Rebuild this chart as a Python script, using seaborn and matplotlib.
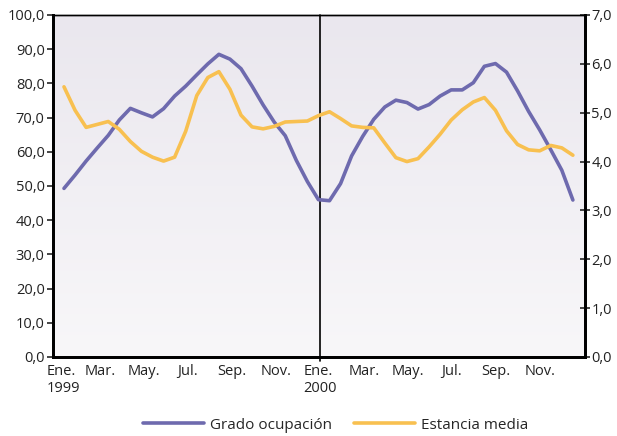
import numpy as np
import pandas as pd
import matplotlib
matplotlib.use("Agg")
import matplotlib.pyplot as plt
import matplotlib.transforms as mtrans
from matplotlib.ticker import FuncFormatter, MultipleLocator
import seaborn as sns

# ---- data ----
grado = [49.3, 53.2, 57.3, 61.1, 64.8, 69.3, 72.7, 71.4, 70.2, 72.6,
         76.3, 79.2, 82.5, 85.7, 88.5, 87.1, 84.3, 79.2, 73.7, 68.7,
         64.7, 57.5, 51.3, 46.0, 45.7, 50.7, 58.8, 64.5, 69.5, 73.1,
         75.1, 74.4, 72.5, 73.8, 76.3, 78.1, 78.1, 80.2, 85.0, 85.8,
         83.3, 77.8, 71.8, 66.4, 60.6, 54.6, 45.9]
estancia = [5.53, 5.05, 4.70, 4.76, 4.82, 4.66, 4.41, 4.21, 4.09, 4.01,
            4.09, 4.62, 5.35, 5.72, 5.84, 5.48, 4.95, 4.71, 4.67, 4.72,
            4.81, 4.82, 4.83, 4.94, 5.02, 4.88, 4.73, 4.70, 4.69, 4.38,
            4.08, 4.00, 4.06, 4.30, 4.56, 4.85, 5.06, 5.22, 5.31, 5.05,
            4.63, 4.35, 4.24, 4.22, 4.33, 4.28, 4.13]
periodo = np.linspace(0.36, 23.5, len(grado))  # months since Jan 1999
tick_pos = [0, 2, 4, 6, 8, 10, 12, 14, 16, 18, 20, 22]
tick_labels = ["Ene.\n1999", "Mar.", "May.", "Jul.", "Sep.", "Nov.",
               "Ene.\n2000", "Mar.", "May.", "Jul.", "Sep.", "Nov."]
series_names = ["Grado ocupación", "Estancia media"]
colors = ["#6e6aae", "#f8c050"]

df = pd.DataFrame({"periodo": periodo, "grado": grado, "estancia": estancia})

sns.set_style("white")
plt.rcParams["font.family"] = ["Open Sans", "DejaVu Sans"]

fig = plt.figure(figsize=(6.17, 4.36), dpi=100)
ax = fig.add_axes([0.0859, 0.1812, 0.8622, 0.7844])
ax2 = ax.twinx()

# gradient background
grad = np.linspace(0, 1, 256).reshape(-1, 1)
top = np.array([0xea, 0xe7, 0xee]) / 255
bot = np.array([0xf8, 0xf7, 0xf9]) / 255
img = top[None, None, :] * (1 - grad[:, :, None]) + bot[None, None, :] * grad[:, :, None]
ax.imshow(img, extent=[0, 1, 0, 1], transform=ax.transAxes, aspect="auto", zorder=0)

sns.lineplot(data=df, x="periodo", y="grado", ax=ax, color=colors[0], lw=2.6,
             label=series_names[0], legend=False, zorder=3,
             solid_joinstyle="round", solid_capstyle="round")
sns.lineplot(data=df, x="periodo", y="estancia", ax=ax2, color=colors[1], lw=2.6,
             label=series_names[1], legend=False, zorder=3,
             solid_joinstyle="round", solid_capstyle="round")

ax.set_xlim(-0.14, 24.05)
ax.set_ylim(0, 100)
ax2.set_ylim(0, 7)
ax.axvline(12, ymin=-0.012, ymax=1, color="black", lw=1.2, zorder=2, clip_on=False)

fmt = FuncFormatter(lambda v, p: f"{v:.1f}".replace(".", ","))
ax.yaxis.set_major_locator(MultipleLocator(10))
ax.yaxis.set_major_formatter(fmt)
ax2.yaxis.set_major_locator(MultipleLocator(1))
ax2.yaxis.set_major_formatter(fmt)

ax.set_xticks(tick_pos)
ax.set_xticklabels(tick_labels, fontsize=10.5, color="#222222", multialignment="left")
ax.tick_params(axis="x", length=0, pad=5)
ax.tick_params(axis="y", direction="out", length=4, width=1.2, labelsize=10.5,
               labelcolor="#222222", pad=2, left=True)
ax2.tick_params(axis="y", direction="inout", length=7, width=1.2, labelsize=10.5,
                labelcolor="#222222", pad=1, right=True)
lbl0 = ax.get_xticklabels()[0]
lbl0.set_transform(lbl0.get_transform() + mtrans.ScaledTranslation(7 / 100, 0, fig.dpi_scale_trans))

for a in (ax, ax2):
    a.set_xlabel("")
    a.set_ylabel("")
    for s in ("left", "bottom", "right"):
        a.spines[s].set_linewidth(2.0)
        a.spines[s].set_color("black")
    a.spines["top"].set_linewidth(1.0)
    a.spines["top"].set_color("black")

h1, l1 = ax.get_legend_handles_labels()
h2, l2 = ax2.get_legend_handles_labels()
fig.legend(h1 + h2, l1 + l2, loc="center", bbox_to_anchor=(0.544, 0.025), ncol=2,
           frameon=False, fontsize=11, handlelength=4.0, handletextpad=0.4,
           columnspacing=1.4)

fig.savefig("out.png", dpi=100)
